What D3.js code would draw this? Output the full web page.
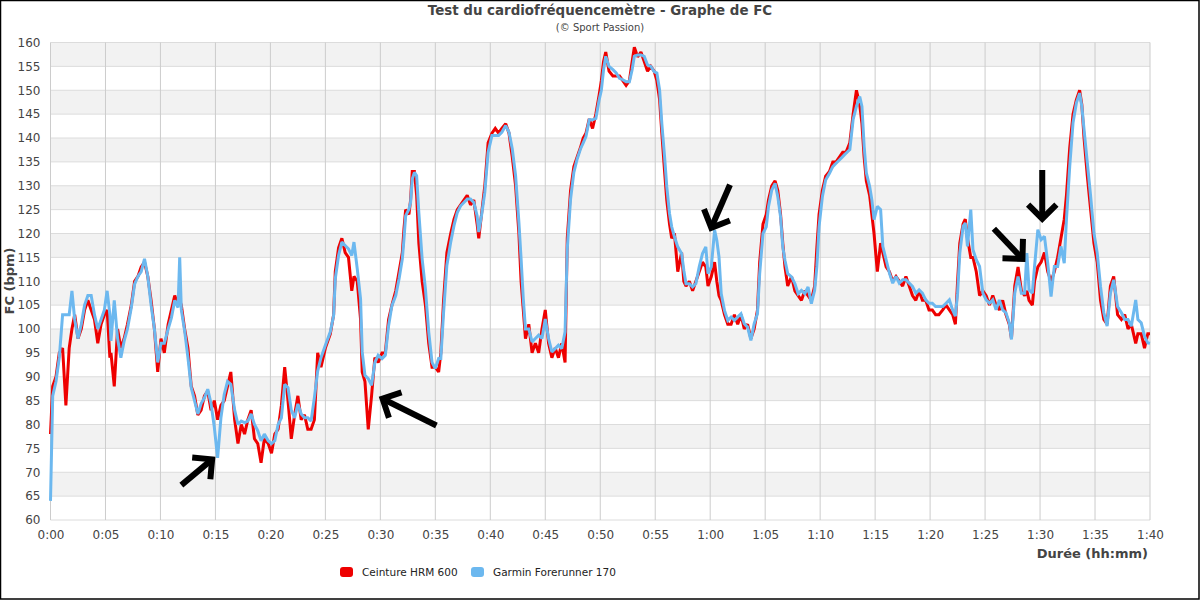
<!DOCTYPE html>
<html>
<head>
<meta charset="utf-8">
<script src="https://cdn.jsdelivr.net/npm/d3@7"></script>
<style>
  body { margin: 0; background: #fff; }
  text { font-family: "DejaVu Sans", sans-serif; }
</style>
</head>
<body>
<div id="chart"></div>
<script>
// temps en minutes
var minutes = [0.0,0.2,0.5,0.8,1.1,1.4,1.7,1.95,2.2,2.5,2.8,3.1,3.4,3.7,4.0,4.3,4.6,4.9,5.15,5.4,5.5,5.8,6.1,6.4,6.7,7.0,7.35,7.65,7.95,8.25,8.55,8.85,9.15,9.45,9.75,10.05,10.35,10.7,11.0,11.3,11.6,11.75,11.9,12.2,12.5,12.8,13.1,13.4,13.7,14.0,14.3,14.6,14.9,15.2,15.5,15.8,16.1,16.4,16.75,17.05,17.35,17.65,17.95,18.25,18.55,18.85,19.15,19.45,19.8,20.1,20.4,20.7,21.0,21.3,21.6,21.9,22.2,22.5,22.8,23.1,23.4,23.7,24.0,24.3,24.6,25.0,25.45,25.75,25.9,26.2,26.5,26.8,27.1,27.4,27.6,27.9,28.2,28.35,28.6,28.9,29.2,29.5,29.8,30.15,30.45,30.75,31.05,31.4,31.7,32.0,32.15,32.3,32.6,32.75,32.9,33.1,33.3,33.5,33.8,34.1,34.4,34.7,35.0,35.3,35.5,35.75,36.05,36.4,36.7,37.0,37.3,37.6,37.9,38.2,38.5,38.8,38.95,39.2,39.5,39.8,40.15,40.45,40.75,41.05,41.4,41.7,42.0,42.3,42.6,42.8,43.0,43.2,43.5,43.8,44.1,44.4,44.7,45.0,45.3,45.6,45.9,46.2,46.5,46.8,47.0,47.3,47.6,47.9,48.2,48.45,48.7,49.0,49.3,49.6,49.9,50.1,50.3,50.5,50.8,51.15,51.45,51.75,52.05,52.35,52.65,52.9,53.1,53.4,53.7,54.0,54.3,54.6,54.9,55.15,55.4,55.6,55.85,56.05,56.3,56.5,56.75,57.05,57.4,57.6,57.8,58.1,58.4,58.7,59.0,59.3,59.6,59.8,60.1,60.4,60.6,60.8,61.0,61.3,61.6,61.9,62.2,62.5,62.8,63.1,63.4,63.7,64.0,64.3,64.5,64.8,65.1,65.3,65.6,65.9,66.15,66.4,66.6,66.8,67.05,67.4,67.7,68.0,68.3,68.6,68.9,69.2,69.5,69.7,69.9,70.2,70.5,70.85,71.15,71.45,71.75,72.05,72.35,72.7,73.0,73.3,73.6,73.8,74.0,74.2,74.5,74.7,74.9,75.2,75.5,75.7,76.0,76.3,76.6,76.9,77.2,77.5,77.8,78.1,78.4,78.7,79.0,79.3,79.6,79.9,80.2,80.5,80.8,81.15,81.45,81.75,82.05,82.3,82.5,82.7,83.0,83.2,83.4,83.7,83.9,84.2,84.5,84.8,85.1,85.4,85.7,86.0,86.3,86.6,86.9,87.2,87.4,87.7,88.0,88.3,88.6,88.8,89.0,89.3,89.5,89.8,90.1,90.4,90.7,91.0,91.3,91.6,91.9,92.2,92.4,92.7,93.0,93.3,93.6,93.8,94.0,94.3,94.6,94.9,95.2,95.5,95.8,96.1,96.4,96.7,97.05,97.4,97.7,98.0,98.3,98.7,98.9,99.2,99.5,99.8,100];

// Ceinture HRM 600 (rouge)
var hrm600 = [78,88,90,95,96,84,96,100,103,98,100,104,106,104,102,97,101,103,104,94,95,88,100,96,98,101,105,110,111,113,114,111,106,100,91,98,95,101,104,107,105,106,105,100,96,88,86,82,83,86,87,83,85,81,84,85,88,91,81,76,80,78,81,83,77,76,72,77,76,74,78,79,84,92,85,77,82,86,81,82,79,79,81,95,92,96,99,103,112,117,119,116,115,108,111,110,102,91,89,79,86,94,93,95,95,102,105,108,112,116,121,125,124,127,133,133,128,118,110,105,97,92,92,91,95,106,116,120,123,125,126,127,128,126,127,122,119,124,130,139,141,142,141,142,143,141,136,130,120,110,104,98,101,95,97,95,100,104,97,94,96,94,97,93,119,129,134,136,138,140,141,144,142,145,149,152,156,158,154,153,153,153,152,151,152,156,159,157,158,156,154,155,154,152,148,141,133,127,122,119,120,112,116,110,109,110,108,110,112,114,113,109,111,114,110,107,106,103,101,101,103,101,103,100,101,98,100,104,114,122,124,127,130,131,129,124,118,113,109,111,108,107,106,108,107,106,109,117,124,129,132,133,135,135,136,137,137,139,145,150,147,143,136,131,128,124,120,112,118,116,113,112,110,111,110,109,111,109,107,106,108,106,106,104,104,103,103,104,105,104,103,101,110,118,122,123,119,115,115,112,107,108,107,105,107,105,104,106,103,101,98,109,113,108,107,108,106,105,110,113,114,116,112,110,112,115,119,123,128,138,145,148,150,147,140,132,125,118,114,106,102,101,109,111,103,102,103,100,101,97,99,99,96,99,99];

// Garmin Forerunner 170 (bleu)
var forerunner170 = [64,86,89,94,103,103,103,108,102,98,101,105,107,107,103,100,102,104,108,103,97.5,106,98,94,97.5,100,104.5,109.4,111,112,114.7,111,105,100,93,97,97,100,102.4,106,104.5,115,104,99.6,94,87.7,85,82.2,84.4,85.6,87.4,84.4,79.4,73,81.4,86.3,89,88.4,83,80,80.7,80.4,80.7,82.2,80,78.7,76.6,78,76.6,76,76.6,80,81.4,88.4,87.7,83,81.4,84.3,82.2,81.4,81.4,80.7,85.6,91.2,94,96.6,99.4,102.8,110.5,115.4,118.2,117.5,116.8,115.4,118.2,112.6,106.3,95.2,90.3,89.6,88.2,93,94.5,93.8,94.5,100.7,104.9,107,110.5,114.7,118.9,123.7,125.1,126.5,131.4,132.8,132.1,124.4,114.7,108.4,99.4,93,91.7,93.8,93.8,103.5,113.3,118.2,121.7,124.4,125.8,126.5,127.2,127.2,126.5,123.7,120.3,123.7,128.6,137,140.5,140.5,140.5,141.2,142.6,141.2,137.7,132.1,122.4,114.7,106.3,100,100,97.3,98,98.7,98,102.1,98,95.2,95.9,96.6,95.9,99.4,116.8,127.2,132.8,135.6,137.7,139,140.3,143.8,143.8,144.1,148,150,154.3,157.1,155,154.3,153.6,152.5,152.2,151.8,151.8,154.3,157.1,157.4,157.4,157.1,155.3,155,153.9,153.6,150,143,136.1,129.8,124.2,121.4,119.3,117.2,115.8,112.3,109.5,109.5,108.8,109.5,113,115.8,117.2,111.6,113,120.7,118.6,115.1,107.4,103.9,101.8,102.5,101.8,102.5,103.2,101.1,100.4,97.6,101.1,103.2,111.6,120,121.4,125.6,129.1,130.5,127.7,123.5,117.2,114.4,111.6,110.9,109.5,107.4,108.1,107.4,108.8,105.3,108.1,113,121.4,127.7,131.2,132.6,134,134.7,135.4,136.1,136.8,137.6,143.9,146.6,148.7,146.6,138.3,132.7,129.9,127.1,122.9,125.7,125,117.3,114.5,111.7,109.6,111,109.6,110.3,110.3,109.6,108.9,107.5,108.2,107.5,106.1,105.4,105.4,104.7,104.7,104.7,105.4,106.1,104,102.7,107.5,115.9,121.5,122.2,117.3,125,116.6,114.5,113.1,107.5,106.1,105.4,106.1,104,106.1,104,103.4,101.3,97.8,107.5,111,107.5,107.5,115.9,108.2,107.5,113.1,120.8,118.7,119.4,113.8,106.8,113.1,113.1,117.3,113.8,122.9,134.1,143.2,147.3,149.4,146.6,141.8,134.8,127.8,120.1,115.9,108.9,103.4,100.6,107.5,110.3,104.7,103.4,102,102,100.6,106.1,102,101.3,98.5,97.1,97];

var seriesNames = ["Ceinture HRM 600", "Garmin Forerunner 170"];
var seriesColors = ["#ee0000", "#6cb8ef"];

// graduations
var yTicks = d3.range(60, 161, 5);
var xTicks = d3.range(0, 101, 5);

// flèches : queue et pointe en [min, bpm]
var arrowTails = [[11.9, 67.3], [35.1, 79.8], [61.8, 130.2], [85.8, 121.0], [90.2, 133.3]];
var arrowTips = [[14.7, 72.7], [30.2, 85.4], [60.1, 121.2], [88.4, 114.7], [90.2, 123.1]];

var svgWidth = 1200;
var svgHeight = 600;

var margin = {
  top: 42.5,
  right: 50,
  bottom: 80,
  left: 50.5
};

var width = svgWidth - margin.left - margin.right;
var height = svgHeight - margin.top - margin.bottom;

var svg = d3.select("#chart")
  .append("svg")
  .attr("width", svgWidth)
  .attr("height", svgHeight);

svg.append("rect")
  .attr("x", 0)
  .attr("y", 0)
  .attr("width", svgWidth)
  .attr("height", svgHeight)
  .attr("fill", "#fff");

var chartGroup = svg.append("g")
  .attr("transform", `translate(${margin.left}, ${margin.top})`);

var xScale = d3.scaleLinear().domain([0, 100]).range([0, width]);
var yScale = d3.scaleLinear().domain([60, 160]).range([height, 0]);

// bandes grises alternées
chartGroup.selectAll(".band")
  .data(yTicks.filter(d => d < 160 && (d / 5) % 2 == 1))
  .enter()
  .append("rect")
  .attr("x", 0)
  .attr("width", width)
  .attr("y", d => yScale(d + 5))
  .attr("height", d => yScale(d) - yScale(d + 5))
  .attr("fill", "#f2f2f2");

// grille
chartGroup.selectAll(".hgrid")
  .data(yTicks)
  .enter()
  .append("line")
  .attr("x1", 0)
  .attr("x2", width)
  .attr("y1", d => yScale(d))
  .attr("y2", d => yScale(d))
  .attr("stroke", "#dcdcdc")
  .attr("stroke-width", 1);

chartGroup.selectAll(".vgrid")
  .data(xTicks)
  .enter()
  .append("line")
  .attr("x1", d => xScale(d))
  .attr("x2", d => xScale(d))
  .attr("y1", 0)
  .attr("y2", height)
  .attr("stroke", "#cccccc")
  .attr("stroke-width", 1);

// axes
var fmt = function(m) {
  var h = Math.floor(m / 60);
  var mm = m % 60;
  return h + ":" + (mm < 10 ? "0" : "") + mm;
};

var bottomAxis = d3.axisBottom(xScale).tickValues(xTicks).tickFormat(fmt).tickSize(0).tickPadding(10);
var leftAxis = d3.axisLeft(yScale).tickValues(yTicks).tickSize(0).tickPadding(10);

var xAxis = chartGroup.append("g")
  .attr("transform", `translate(0, ${height})`)
  .call(bottomAxis);

var yAxis = chartGroup.append("g")
  .call(leftAxis);

[xAxis, yAxis].forEach(function(ax) {
  ax.select(".domain").remove();
  ax.selectAll("text")
    .style("font-family", "DejaVu Sans")
    .style("font-size", "12px")
    .attr("fill", "#444");
});

// courbes
var line = d3.line()
  .x((d, i) => xScale(minutes[i]))
  .y(d => yScale(d));

[hrm600, forerunner170].forEach(function(values, k) {
  chartGroup.append("path")
    .datum(values)
    .attr("d", line)
    .attr("fill", "none")
    .attr("stroke", seriesColors[k])
    .attr("stroke-width", 3)
    .attr("stroke-linejoin", "miter")
    .attr("stroke-miterlimit", 2);
});

// flèches
arrowTails.forEach(function(tail, i) {
  var tip = arrowTips[i];
  var x0 = xScale(tail[0]), y0 = yScale(tail[1]);
  var x1 = xScale(tip[0]), y1 = yScale(tip[1]);
  var ang = Math.atan2(y0 - y1, x0 - x1);
  var arm = 20;
  var g = chartGroup.append("g")
    .attr("stroke", "#000")
    .attr("stroke-width", 6)
    .attr("fill", "none");
  g.append("line")
    .attr("x1", x0).attr("y1", y0)
    .attr("x2", x1).attr("y2", y1);
  g.append("path")
    .attr("stroke-linejoin", "miter")
    .attr("d", "M" + (x1 + arm * Math.cos(ang - Math.PI / 4)) + "," + (y1 + arm * Math.sin(ang - Math.PI / 4)) +
      "L" + x1 + "," + y1 +
      "L" + (x1 + arm * Math.cos(ang + Math.PI / 4)) + "," + (y1 + arm * Math.sin(ang + Math.PI / 4)));
});

// titres
svg.append("text")
  .attr("x", svgWidth / 2)
  .attr("y", 15)
  .attr("text-anchor", "middle")
  .style("font-size", "13.4px")
  .style("font-weight", "bold")
  .attr("fill", "#444")
  .text("Test du cardiofréquencemètre - Graphe de FC");

svg.append("text")
  .attr("x", svgWidth / 2)
  .attr("y", 31)
  .attr("text-anchor", "middle")
  .style("font-size", "10px")
  .attr("fill", "#444")
  .text("(© Sport Passion)");

svg.append("text")
  .attr("transform", "rotate(-90)")
  .attr("x", -281)
  .attr("y", 14)
  .attr("text-anchor", "middle")
  .style("font-size", "13px")
  .style("font-weight", "bold")
  .attr("fill", "#444")
  .text("FC (bpm)");

svg.append("text")
  .attr("x", 1148)
  .attr("y", 558)
  .attr("text-anchor", "end")
  .style("font-size", "13px")
  .style("font-weight", "bold")
  .attr("fill", "#444")
  .text("Durée (hh:mm)");

// légende
var legendX = [340, 471];
seriesNames.forEach(function(name, k) {
  svg.append("rect")
    .attr("x", legendX[k])
    .attr("y", 567)
    .attr("width", 13)
    .attr("height", 10)
    .attr("rx", 3)
    .attr("fill", seriesColors[k]);
  svg.append("text")
    .attr("x", legendX[k] + 22)
    .attr("y", 576)
    .style("font-size", "10.5px")
    .attr("fill", "#222")
    .text(name);
});

// cadre
svg.append("rect")
  .attr("x", 0.5)
  .attr("y", 0.5)
  .attr("width", svgWidth - 1.5)
  .attr("height", svgHeight - 1.5)
  .attr("fill", "none")
  .attr("stroke", "#000")
  .attr("stroke-width", 1.5);
</script>
</body>
</html>
